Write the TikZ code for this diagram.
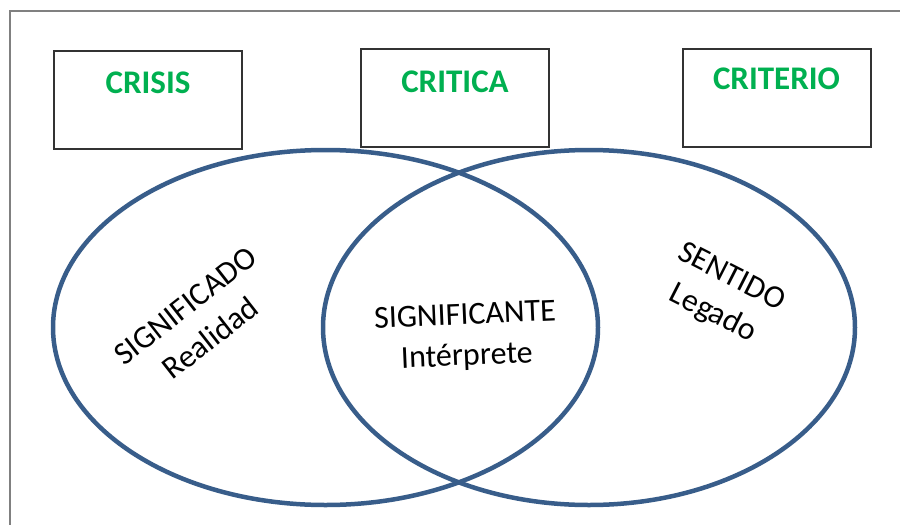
\documentclass[tikz,border=0pt]{standalone}
\usepackage{fontspec}
\setmainfont{Carlito}
\usetikzlibrary{positioning}
\definecolor{azul}{RGB}{56,93,138}
\definecolor{verde}{RGB}{0,176,80}
\begin{document}
\begin{tikzpicture}[x=1pt,y=-1pt,
  caja/.style={draw=black!80,line width=2pt,fill=white,minimum width=188pt,minimum height=98pt,inner sep=0pt},
  titulo/.style={text=verde,font=\bfseries\fontsize{33}{33}\selectfont,inner sep=0pt},
  conjunto/.style={draw=azul,line width=4.5pt},
  texto/.style={align=center,font=\fontsize{32}{41}\selectfont}]
\useasboundingbox(0,0)rectangle(900,525);
\draw[gray,line width=1.5pt](10,525)--(10,11)--(900,11);
% los dos conjuntos
\draw[conjunto](325.5,327.5)ellipse[x radius=272.5,y radius=177.5];
\draw[conjunto](589,327.5)ellipse[x radius=266,y radius=177.5];
% cajas de arriba
\node[caja](crisis) at (148,100){};
\node[caja](critica) at (455,98){};
\node[caja](criterio) at (776.5,98){};
\node[titulo,below=22pt of crisis.north](tcrisis){CRISIS};
\node[titulo,below=23pt of critica.north](tcritica){CRITICA};
\node[titulo,below=20pt of criterio.north](tcriterio){CRITERIO};
% textos de los conjuntos
\node[texto,rotate=38](significado) at (198,322){SIGNIFICADO\\Realidad};
\node[texto,rotate=2.5](significante) at (466,337){SIGNIFICANTE\\Intérprete};
\node[texto,rotate=-27](sentido) at (722,296){SENTIDO\\Legado};
\end{tikzpicture}
\end{document}
